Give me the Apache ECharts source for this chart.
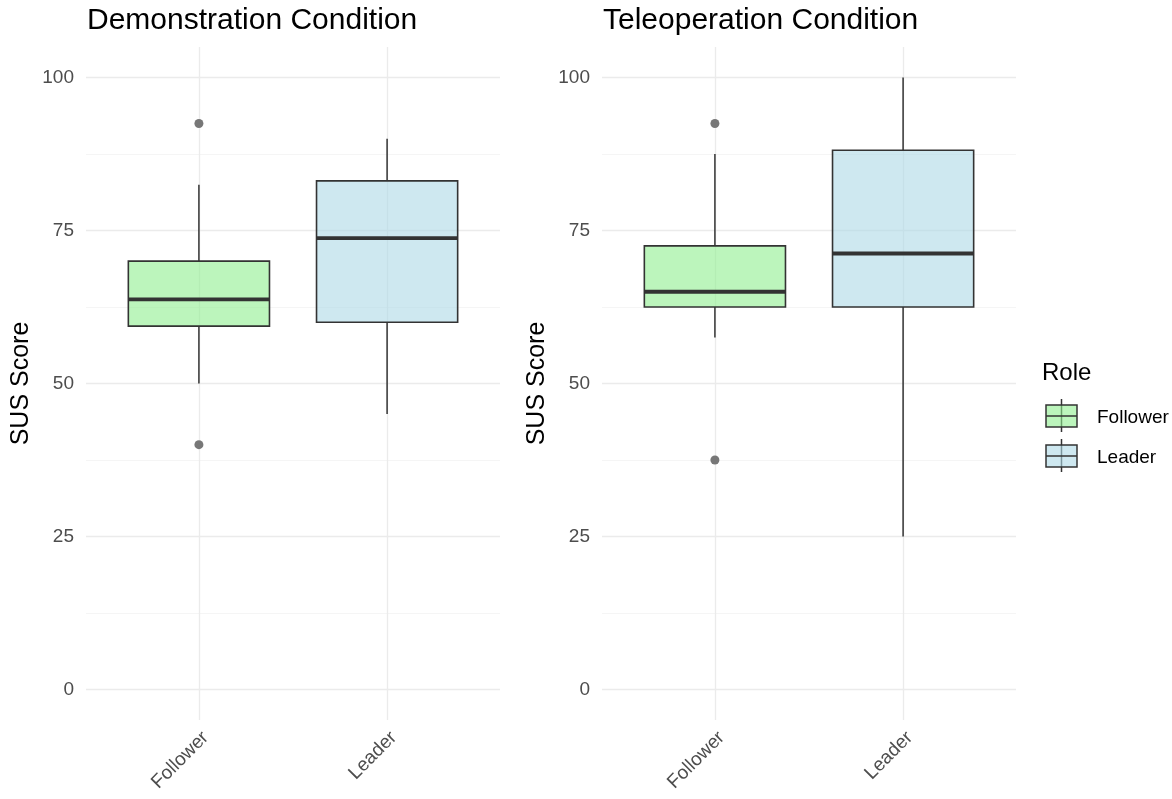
<!DOCTYPE html>
<html>
<head>
<meta charset="utf-8">
<script src="https://cdn.jsdelivr.net/npm/echarts@6/dist/echarts.min.js"></script>
<style>
html,body{margin:0;padding:0;background:#fff;}
#chart{width:1172px;height:799px;}
</style>
</head>
<body>
<div id="chart"></div>
<script>
// ---- data ----
const categories = ['Follower', 'Leader'];
const panelTitles = ['Demonstration Condition', 'Teleoperation Condition'];
// [lower whisker, Q1, median, Q3, upper whisker]
const demoStats = [[50, 59.375, 63.75, 70, 82.5], [45, 60, 73.75, 83.125, 90]];
const teleStats = [[57.5, 62.5, 65, 72.5, 87.5], [25, 62.5, 71.25, 88.125, 100]];
// outliers: [category index, value]
const demoOutliers = [[0, 92.5], [0, 40]];
const teleOutliers = [[0, 92.5], [0, 37.5]];
const yMajorTicks = [0, 25, 50, 75, 100];
const yMinorTicks = [12.5, 37.5, 62.5, 87.5];
const legendTitle = 'Role';

// ---- styles ----
const FONT = '"Liberation Sans", Arial, sans-serif';
const fills = ['rgba(144,238,144,0.6)', 'rgba(173,216,230,0.6)'];
const LINE = '#333333';
const BOX_W = 0.75;

const catPos = categories.map((c, i) => i + 1);

function renderBox(params, api) {
  const x = api.value(0);
  const pLo = api.coord([x, api.value(1)]);
  const pQ1 = api.coord([x, api.value(2)]);
  const pMed = api.coord([x, api.value(3)]);
  const pQ3 = api.coord([x, api.value(4)]);
  const pHi = api.coord([x, api.value(5)]);
  const hw = api.size([BOX_W, 0])[0] / 2;
  const cx = pLo[0];
  const fill = fills[params.dataIndex];
  return {
    type: 'group',
    children: [
      {type: 'line', shape: {x1: cx, y1: pQ3[1], x2: cx, y2: pHi[1]}, style: {stroke: LINE, lineWidth: 1.5}},
      {type: 'line', shape: {x1: cx, y1: pQ1[1], x2: cx, y2: pLo[1]}, style: {stroke: LINE, lineWidth: 1.5}},
      {type: 'rect', shape: {x: cx - hw, y: pQ3[1], width: 2 * hw, height: pQ1[1] - pQ3[1]},
        style: {fill: fill, stroke: LINE, lineWidth: 1.6}},
      {type: 'line', shape: {x1: cx - hw, y1: pMed[1], x2: cx + hw, y2: pMed[1]}, style: {stroke: LINE, lineWidth: 3.8}}
    ]
  };
}

const gridLefts = [86, 602];
const grids = gridLefts.map(l => ({left: l, top: 47, width: 414, height: 673}));

const xAxes = gridLefts.map((l, i) => ({
  type: 'value', gridIndex: i, min: 0.4, max: 2.6,
  axisLine: {show: false},
  axisTick: {show: false, customValues: catPos},
  splitLine: {show: true, lineStyle: {color: '#ebebeb', width: 1.3}},
  axisLabel: {
    customValues: catPos, rotate: 45, margin: 8, verticalAlign: 'top',
    formatter: v => categories[Math.round(v) - 1] || '',
    color: '#4d4d4d', fontSize: 19, fontFamily: FONT
  }
}));

const yAxes = [];
gridLefts.forEach((l, i) => {
  yAxes.push({
    type: 'value', gridIndex: i, min: -5, max: 105,
    name: 'SUS Score', nameLocation: 'middle', nameGap: 52,
    nameTextStyle: {fontSize: 25, color: '#000', fontFamily: FONT},
    axisLine: {show: false},
    axisTick: {show: false, customValues: yMajorTicks},
    splitLine: {show: true, lineStyle: {color: '#ebebeb', width: 1.3}},
    axisLabel: {customValues: yMajorTicks, margin: 12, color: '#4d4d4d', fontSize: 19, fontFamily: FONT}
  });
  yAxes.push({
    type: 'value', gridIndex: i, min: -5, max: 105, position: 'left',
    axisLine: {show: false},
    axisTick: {show: false, customValues: yMinorTicks},
    splitLine: {show: true, lineStyle: {color: '#f0f0f0', width: 0.7}},
    axisLabel: {show: false}
  });
});

const series = [];
[demoStats, teleStats].forEach((stats, i) => {
  series.push({
    type: 'custom', xAxisIndex: i, yAxisIndex: i * 2,
    renderItem: renderBox,
    encode: {x: 0, y: [1, 2, 3, 4, 5]},
    data: stats.map((s, k) => [catPos[k]].concat(s)),
    z: 3
  });
});
[demoOutliers, teleOutliers].forEach((outs, i) => {
  series.push({
    type: 'scatter', xAxisIndex: i, yAxisIndex: i * 2,
    symbolSize: 9,
    itemStyle: {color: '#777777', opacity: 1},
    data: outs.map(o => [catPos[o[0]], o[1]]),
    z: 4
  });
});

// legend drawn as graphic (keys) with real text
const legendKeys = [];
const legendY = [416, 456];
categories.forEach((c, i) => {
  const cy = legendY[i];
  legendKeys.push(
    {type: 'line', shape: {x1: 1061.5, y1: cy - 17, x2: 1061.5, y2: cy + 16}, style: {stroke: LINE, lineWidth: 1.5}},
    {type: 'rect', shape: {x: 1046, y: cy - 11, width: 31, height: 22}, style: {fill: fills[i], stroke: LINE, lineWidth: 1.5}},
    {type: 'line', shape: {x1: 1046, y1: cy, x2: 1077, y2: cy}, style: {stroke: LINE, lineWidth: 1.5}},
    {type: 'text', style: {text: c, x: 1097, y: cy + 2, fill: '#000', font: '19px ' + FONT, verticalAlign: 'middle'}}
  );
});
legendKeys.push({type: 'text', style: {text: legendTitle, x: 1042, y: 373, fill: '#000', font: '24px ' + FONT, verticalAlign: 'middle'}});

const option = {
  backgroundColor: '#ffffff',
  animation: false,
  title: panelTitles.map((t, i) => ({
    text: t, left: gridLefts[i] + 1, top: 6, padding: 0,
    textStyle: {fontSize: 30, fontWeight: 'normal', color: '#000', fontFamily: FONT}
  })),
  grid: grids,
  xAxis: xAxes,
  yAxis: yAxes,
  series: series,
  graphic: legendKeys
};

const chart = echarts.init(document.getElementById('chart'), null, {renderer: 'canvas'});
chart.setOption(option);
</script>
</body>
</html>
